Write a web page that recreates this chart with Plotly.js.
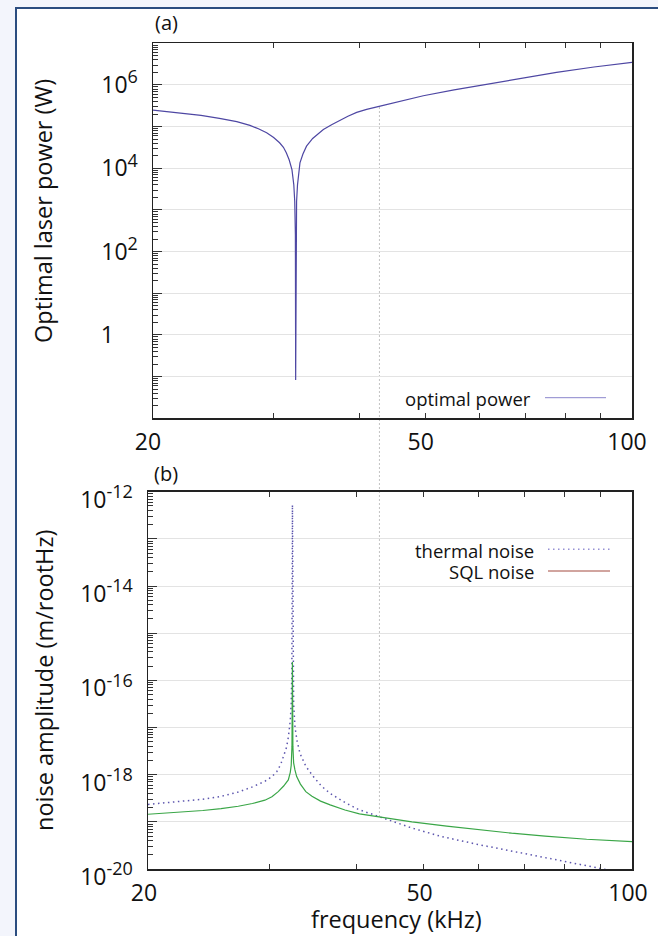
<!DOCTYPE html>
<html><head><meta charset="utf-8">
<script src="https://cdn.plot.ly/plotly-3.0.1.min.js"></script>
<style>
html,body{margin:0;padding:0;background:#f3f5fc;width:658px;height:936px;overflow:hidden;}
#frame{position:absolute;left:15px;top:7px;width:641px;height:927px;border-left:2px solid #2b4d80;border-top:2px solid #2b4d80;background:#fff;}
#chart{position:absolute;left:0;top:0;width:658px;height:936px;}
</style></head><body>
<div id="frame"></div><div id="chart"></div>
<script>
// ---- data ----
const freqPower    = [20, 21, 22, 23.5, 25, 26.5, 27.7, 28.5, 29.3, 30, 30.6, 31, 31.3, 31.6, 31.9, 32.1, 32.2, 32.27, 32.3,
                      32.33, 32.4, 32.5, 32.77, 33.1, 33.5, 34.2, 35.45, 36.5, 37.5, 38.5, 39.65, 41, 42.9, 45.5, 49.6, 55, 62, 69, 77.6, 88, 100];
const optimalPower = [2.5e5, 2.3e5, 2.1e5, 1.86e5, 1.58e5, 1.32e5, 1.07e5, 8.9e4, 7.1e4, 5.5e4, 4.1e4, 3.2e4, 2.35e4, 1.6e4, 9.3e3, 4.0e3, 1.6e3, 2.5e2, 0.083,
                      2.5e2, 1.6e3, 4.0e3, 1.35e4, 2.2e4, 3.4e4, 5.2e4, 8.5e4, 1.12e5, 1.45e5, 1.78e5, 2.2e5, 2.6e5, 3.1e5, 3.9e5, 5.5e5, 7.6e5, 1.07e6, 1.48e6, 2.0e6, 2.7e6, 3.5e6];

const freqThermal  = [20, 22, 24, 25.5, 27, 28.3, 29.5, 30.2, 30.7, 31.1, 31.4, 31.7, 31.9, 32.1, 32.2, 32.27, 32.33,
                      32.39, 32.46, 32.61, 32.85, 33.16, 33.8, 34.66, 35.6, 36.65, 38.5, 40.3, 43, 45.5, 48.1, 53, 60, 67, 74.9, 81, 88.4, 100];
const thermalNoise = [2.34e-19, 2.63e-19, 3.02e-19, 3.47e-19, 4.27e-19, 5.5e-19, 7.24e-19, 9.1e-19, 1.17e-18, 1.66e-18, 2.4e-18, 3.8e-18, 6.3e-18, 1.41e-17, 3.16e-17, 1.58e-16, 5.25e-13,
                      1.58e-16, 3.16e-17, 1.0e-17, 5.0e-18, 2.8e-18, 1.51e-18, 9.1e-19, 5.75e-19, 4.0e-19, 2.57e-19, 1.82e-19, 1.29e-19, 9.8e-20, 7.4e-20, 4.9e-20, 3.3e-20, 2.4e-20, 1.78e-20, 1.38e-20, 1.07e-20, 7.6e-21];

const freqSQL      = [20, 22, 24, 25.5, 27, 28.3, 29.5, 30.2, 30.84, 31.4, 31.89, 32.1, 32.2, 32.28, 32.33,
                      32.38, 32.46, 32.6, 32.79, 33.2, 33.8, 34.5, 35.5, 36.65, 38.5, 40.4, 43, 48.1, 54, 60, 67, 74.9, 86, 100];
const sqlNoise     = [1.45e-19, 1.58e-19, 1.74e-19, 1.91e-19, 2.14e-19, 2.45e-19, 2.88e-19, 3.39e-19, 4.37e-19, 5.75e-19, 7.76e-19, 1.12e-18, 1.58e-18, 3.98e-18, 2.45e-16,
                      3.98e-18, 1.78e-18, 1.26e-18, 9.1e-19, 6.3e-19, 4.37e-19, 3.47e-19, 2.75e-19, 2.29e-19, 1.78e-19, 1.48e-19, 1.29e-19, 1.0e-19, 8.1e-20, 6.76e-20, 5.75e-20, 5.0e-20, 4.27e-20, 3.8e-20];

const xTickVals = [20, 30, 40, 50, 60, 70, 80, 90, 100];
const xTickText = ['20', '', '', '50', '', '', '', '', '100'];
const powerTickVals = [1e-2, 1e-1, 1, 1e1, 1e2, 1e3, 1e4, 1e5, 1e6, 1e7];
const powerTickExp  = [null, null, 0, null, 2, null, 4, null, 6, null];
const noiseTickVals = [1e-20, 1e-19, 1e-18, 1e-17, 1e-16, 1e-15, 1e-14, 1e-13, 1e-12];
const noiseTickExp  = [-20, null, -18, null, -16, null, -14, null, -12];
const seriesNames = ['optimal power', 'thermal noise', 'SQL noise'];
const panelLabels = ['(a)', '(b)'];
const axisTitles = {power: 'Optimal laser power (W)', noise: 'noise amplitude (m/rootHz)', freq: 'frequency (kHz)'};
const CROSS_F = 42.8; // crossover frequency marked by the vertical line

// ---- helpers for axis decoration ----
function minorLogTicks(lo, hi) {
  const v = [];
  for (let k = lo; k < hi; k++) for (let j = 2; j <= 9; j++) v.push(j * Math.pow(10, k));
  return v;
}
function expLabel(e) {
  if (e === null) return '';
  if (e === 0) return '1\u00a0\u00a0\u00a0\u00a0';
  return '10<sup><span style="font-size:18px">' + e + '</span></sup>';
}

const W = 658, H = 936;
const FONT = '"Open Sans", Lato, sans-serif';
const TICKC = '#333';
const DOT = '1.5px,3.5px';
const X_RANGE = [Math.log10(20), 2];
const X_DOMAIN_A = [153 / W, 632 / W];
const X_DOMAIN_B = [148 / W, 632 / W];

function xAxis(domain, anchor, shift) {
  return {
    type: 'log', domain: domain, anchor: anchor, range: X_RANGE,
    tickmode: 'array', tickvals: xTickVals, ticktext: xTickText,
    ticks: 'inside', ticklen: 5, tickwidth: 1, tickcolor: TICKC,
    showline: true, linecolor: '#222', linewidth: 1.5, mirror: 'ticks',
    showgrid: false, zeroline: false,
    tickfont: {size: 23, color: '#111'}, ticklabelstandoff: 3, ticklabelshift: shift
  };
}
function yAxis(domain, anchor, range, vals, exps, shift) {
  return {
    type: 'log', domain: domain, anchor: anchor, range: range,
    tickmode: 'array', tickvals: vals, ticktext: exps.map(expLabel),
    ticks: 'inside', ticklen: 9, tickwidth: 1, tickcolor: TICKC,
    showline: true, linecolor: '#222', linewidth: 1.5, mirror: true,
    showgrid: true, gridcolor: '#e3e3e3', gridwidth: 1, zeroline: false,
    minor: {tickmode: 'array', tickvals: minorLogTicks(range[0], range[1]), ticks: 'inside', ticklen: 5, tickwidth: 1, tickcolor: TICKC, showgrid: false},
    tickfont: {size: 23, color: '#111'}, ticklabelstandoff: 9, ticklabelshift: shift
  };
}

const traces = [
  {x: freqPower, y: optimalPower, xaxis: 'x', yaxis: 'y', mode: 'lines', name: seriesNames[0],
   line: {color: '#4e47a3', width: 1.2}},
  {x: freqThermal, y: thermalNoise, xaxis: 'x2', yaxis: 'y2', mode: 'lines', name: seriesNames[1],
   line: {color: '#5d56ae', width: 1.5, dash: DOT}},
  {x: freqSQL, y: sqlNoise, xaxis: 'x2', yaxis: 'y2', mode: 'lines', name: seriesNames[2],
   line: {color: '#3aa647', width: 1.2}}
];

const px = v => v / W, py = v => 1 - v / H;
// paper x of the crossover frequency, through panel (a)'s log x scale
const crossX = X_DOMAIN_A[0] + (Math.log10(CROSS_F) - X_RANGE[0]) / (X_RANGE[1] - X_RANGE[0]) * (X_DOMAIN_A[1] - X_DOMAIN_A[0]);

const layout = {
  width: W, height: H, margin: {l: 0, r: 0, t: 0, b: 0},
  paper_bgcolor: 'rgba(0,0,0,0)', plot_bgcolor: 'rgba(0,0,0,0)',
  showlegend: false,
  font: {family: FONT, color: '#111', size: 20},
  xaxis: xAxis(X_DOMAIN_A, 'y', -5),
  yaxis: yAxis([py(418.3), py(43.3)], 'x', [-2, 7], powerTickVals, powerTickExp, 0),
  xaxis2: xAxis(X_DOMAIN_B, 'y2', -4),
  yaxis2: yAxis([py(869), py(491.7)], 'x2', [-20, -12], noiseTickVals, noiseTickExp, 8),
  shapes: [
    {type: 'line', xref: 'paper', yref: 'paper', x0: crossX, x1: crossX,
     y0: py(817), y1: py(107), line: {color: '#c2c2c2', width: 1, dash: '2px,2px'}, layer: 'below'},
    {type: 'line', xref: 'x2', yref: 'y2', x0: Math.log10(34.0), x1: Math.log10(95.5), y0: -19, y1: -19,
     line: {color: '#ffffff', width: 2}, layer: 'between'},
    // legend samples
    {type: 'line', xref: 'paper', yref: 'paper', x0: px(545), x1: px(606), y0: py(397.7), y1: py(397.7),
     line: {color: '#8a86cc', width: 1}},
    {type: 'line', xref: 'paper', yref: 'paper', x0: px(548), x1: px(610), y0: py(549.3), y1: py(549.3),
     line: {color: '#9590d4', width: 1.5, dash: DOT}},
    {type: 'line', xref: 'paper', yref: 'paper', x0: px(548), x1: px(610), y0: py(571), y1: py(571),
     line: {color: '#a34a3f', width: 1}}
  ],
  annotations: [
    {xref: 'paper', yref: 'paper', x: px(533), y: py(398.3), xanchor: 'right', yanchor: 'middle', showarrow: false,
     text: seriesNames[0], font: {size: 18.5}},
    {xref: 'paper', yref: 'paper', x: px(536), y: py(550), xanchor: 'right', yanchor: 'middle', showarrow: false,
     text: seriesNames[1], font: {size: 18.5}},
    {xref: 'paper', yref: 'paper', x: px(536), y: py(571), xanchor: 'right', yanchor: 'middle', showarrow: false,
     text: seriesNames[2], font: {size: 18.5}},
    {xref: 'paper', yref: 'paper', x: px(166), y: py(22.7), xanchor: 'center', yanchor: 'middle', showarrow: false,
     text: panelLabels[0], font: {size: 20}},
    {xref: 'paper', yref: 'paper', x: px(166), y: py(473.3), xanchor: 'center', yanchor: 'middle', showarrow: false,
     text: panelLabels[1], font: {size: 20}},
    {xref: 'paper', yref: 'paper', x: px(43), y: py(211), xanchor: 'center', yanchor: 'middle', showarrow: false,
     textangle: -90, text: axisTitles.power, font: {size: 23.5}},
    {xref: 'paper', yref: 'paper', x: px(44), y: py(681), xanchor: 'center', yanchor: 'middle', showarrow: false,
     textangle: -90, text: axisTitles.noise, font: {size: 23.5}},
    {xref: 'paper', yref: 'paper', x: px(396.7), y: py(919), xanchor: 'center', yanchor: 'middle', showarrow: false,
     text: axisTitles.freq, font: {size: 23.5}}
  ]
};

Plotly.newPlot('chart', traces, layout, {displayModeBar: false, staticPlot: true});
</script></body></html>
